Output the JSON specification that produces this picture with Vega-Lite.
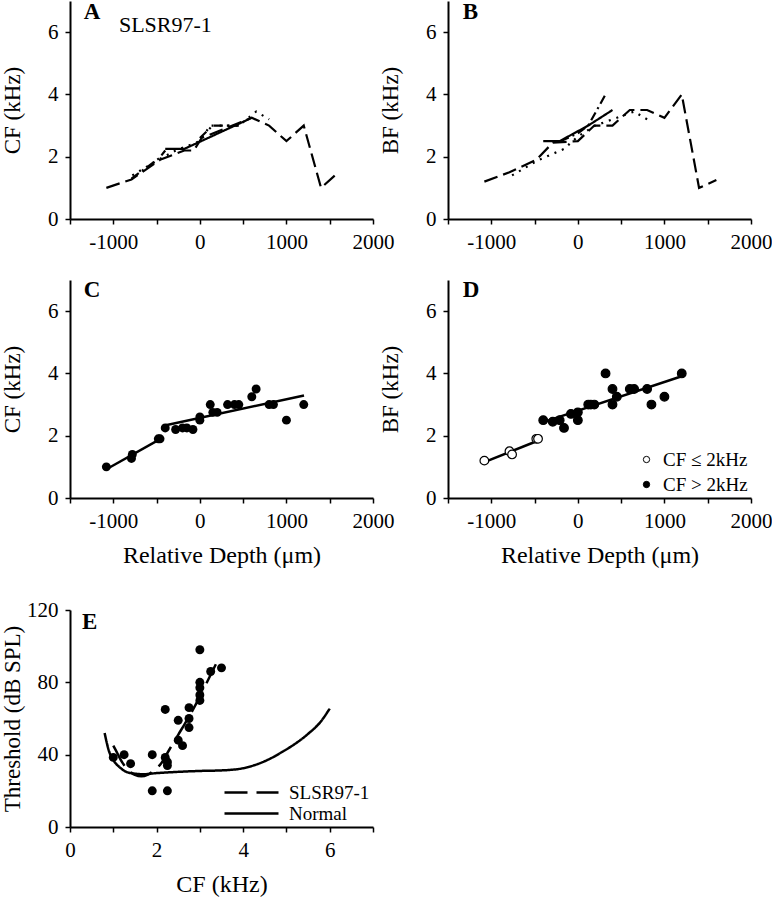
{
  "$schema": "https://vega.github.io/schema/vega-lite/v6.json",
  "padding": {"left": 0, "top": 1, "right": 0, "bottom": 2},
  "config": {
    "font": "Liberation Serif",
    "view": {"stroke": null},
    "axis": {"grid": false, "domainColor": "black", "tickColor": "black", "domainWidth": 2, "tickWidth": 1.5, "tickSize": 5,
      "labelFont": "Liberation Serif", "labelFontSize": 21, "labelColor": "black", "labelPadding": 7, "labelFlush": false, "labelOverlap": false,
      "titleFont": "Liberation Serif", "titleFontSize": 24, "titleFontWeight": "normal", "titleColor": "black", "titlePadding": 12},
    "axisLeft": {"titleX": -46, "titleFontSize": 23},
    "legend": {"labelFont": "Liberation Serif", "labelFontSize": 19, "labelColor": "black"}
  },
  "resolve": {"scale": {"fill": "independent", "strokeDash": "independent"}, "legend": {"fill": "independent", "strokeDash": "independent"}},
  "datasets": {
    "trackA": [
      {"track": "a", "depth": -1080, "cf": 1.0}, {"track": "a", "depth": -790, "cf": 1.27}, {"track": "a", "depth": -460, "cf": 1.9}, {"track": "a", "depth": -180, "cf": 2.2}, {"track": "a", "depth": -70, "cf": 2.2}, {"track": "a", "depth": 20, "cf": 2.6}, {"track": "a", "depth": 600, "cf": 3.25}, {"track": "a", "depth": 800, "cf": 3.0}, {"track": "a", "depth": 1000, "cf": 2.5}, {"track": "a", "depth": 1200, "cf": 3.0}, {"track": "a", "depth": 1400, "cf": 1.0}, {"track": "a", "depth": 1600, "cf": 1.5},
      {"track": "b", "depth": -780, "cf": 1.4}, {"track": "b", "depth": -480, "cf": 1.9}, {"track": "b", "depth": -280, "cf": 2.2}, {"track": "b", "depth": 0, "cf": 2.5}, {"track": "b", "depth": 120, "cf": 3.0}, {"track": "b", "depth": 450, "cf": 3.0}, {"track": "b", "depth": 650, "cf": 3.45}, {"track": "b", "depth": 800, "cf": 3.2},
      {"track": "c", "depth": -400, "cf": 2.25}, {"track": "c", "depth": -180, "cf": 2.25}, {"track": "c", "depth": 600, "cf": 3.25},
      {"track": "d", "depth": -790, "cf": 1.3}, {"track": "d", "depth": -470, "cf": 1.95}, {"track": "d", "depth": -400, "cf": 2.2},
      {"track": "d2", "depth": 0, "cf": 2.6}, {"track": "d2", "depth": 150, "cf": 3.0}, {"track": "d2", "depth": 320, "cf": 3.0}, {"track": "d2", "depth": 450, "cf": 3.0}
    ],
    "trackB": [
      {"track": "a", "depth": -1080, "bf": 1.2}, {"track": "a", "depth": -790, "bf": 1.5}, {"track": "a", "depth": -480, "bf": 1.9}, {"track": "a", "depth": -290, "bf": 2.45}, {"track": "a", "depth": 0, "bf": 2.5}, {"track": "a", "depth": 190, "bf": 3.0}, {"track": "a", "depth": 400, "bf": 3.0}, {"track": "a", "depth": 600, "bf": 3.5}, {"track": "a", "depth": 800, "bf": 3.5}, {"track": "a", "depth": 1000, "bf": 3.25}, {"track": "a", "depth": 1200, "bf": 4.0}, {"track": "a", "depth": 1400, "bf": 1.0}, {"track": "a", "depth": 1600, "bf": 1.25},
      {"track": "b", "depth": -760, "bf": 1.4}, {"track": "b", "depth": -470, "bf": 1.87}, {"track": "b", "depth": -160, "bf": 2.25}, {"track": "b", "depth": 0, "bf": 2.65}, {"track": "b", "depth": 200, "bf": 3.0}, {"track": "b", "depth": 400, "bf": 3.2}, {"track": "b", "depth": 650, "bf": 3.45}, {"track": "b", "depth": 800, "bf": 3.2},
      {"track": "c", "depth": -400, "bf": 2.5}, {"track": "c", "depth": -210, "bf": 2.5}, {"track": "c", "depth": 120, "bf": 3.0}, {"track": "c", "depth": 400, "bf": 3.5},
      {"track": "d", "depth": -200, "bf": 2.5}, {"track": "d", "depth": 0, "bf": 2.75}, {"track": "d", "depth": 120, "bf": 3.0}, {"track": "d", "depth": 320, "bf": 4.0}
    ],
    "cfPts": [
      {"depth": -1080, "cf": 1.0}, {"depth": -780, "cf": 1.4}, {"depth": -790, "cf": 1.27}, {"depth": -480, "cf": 1.9}, {"depth": -460, "cf": 1.9}, {"depth": -400, "cf": 2.25}, {"depth": -280, "cf": 2.2}, {"depth": -200, "cf": 2.25}, {"depth": -150, "cf": 2.25}, {"depth": -80, "cf": 2.2}, {"depth": 0, "cf": 2.6}, {"depth": 0, "cf": 2.5}, {"depth": 120, "cf": 3.0}, {"depth": 150, "cf": 2.75}, {"depth": 200, "cf": 2.75}, {"depth": 320, "cf": 3.0}, {"depth": 400, "cf": 3.0}, {"depth": 450, "cf": 3.0}, {"depth": 600, "cf": 3.25}, {"depth": 650, "cf": 3.5}, {"depth": 800, "cf": 3.0}, {"depth": 850, "cf": 3.0}, {"depth": 1000, "cf": 2.5}, {"depth": 1200, "cf": 3.0}
    ],
    "cfFit": [
      {"seg": 1, "depth": -1069, "cf": 0.94}, {"seg": 1, "depth": -434, "cf": 1.93},
      {"seg": 2, "depth": -407, "cf": 2.33}, {"seg": 2, "depth": 1203, "cf": 3.29}
    ],
    "bfPts": [
      {"grp": "CF ≤ 2kHz", "depth": -1080, "bf": 1.2}, {"grp": "CF ≤ 2kHz", "depth": -790, "bf": 1.5}, {"grp": "CF ≤ 2kHz", "depth": -760, "bf": 1.4}, {"grp": "CF ≤ 2kHz", "depth": -480, "bf": 1.9}, {"grp": "CF ≤ 2kHz", "depth": -460, "bf": 1.9},
      {"grp": "CF > 2kHz", "depth": -400, "bf": 2.5}, {"grp": "CF > 2kHz", "depth": -290, "bf": 2.45}, {"grp": "CF > 2kHz", "depth": -210, "bf": 2.5}, {"grp": "CF > 2kHz", "depth": -160, "bf": 2.25}, {"grp": "CF > 2kHz", "depth": -80, "bf": 2.7}, {"grp": "CF > 2kHz", "depth": 0, "bf": 2.5}, {"grp": "CF > 2kHz", "depth": 0, "bf": 2.75}, {"grp": "CF > 2kHz", "depth": 120, "bf": 3.0}, {"grp": "CF > 2kHz", "depth": 150, "bf": 3.0}, {"grp": "CF > 2kHz", "depth": 190, "bf": 3.0}, {"grp": "CF > 2kHz", "depth": 320, "bf": 4.0}, {"grp": "CF > 2kHz", "depth": 400, "bf": 3.5}, {"grp": "CF > 2kHz", "depth": 400, "bf": 3.0}, {"grp": "CF > 2kHz", "depth": 450, "bf": 3.25}, {"grp": "CF > 2kHz", "depth": 600, "bf": 3.5}, {"grp": "CF > 2kHz", "depth": 650, "bf": 3.5}, {"grp": "CF > 2kHz", "depth": 800, "bf": 3.5}, {"grp": "CF > 2kHz", "depth": 850, "bf": 3.0}, {"grp": "CF > 2kHz", "depth": 1000, "bf": 3.25}, {"grp": "CF > 2kHz", "depth": 1200, "bf": 4.0}
    ],
    "bfFit": [
      {"seg": 1, "depth": -1080, "bf": 1.15}, {"seg": 1, "depth": -434, "bf": 1.87},
      {"seg": 2, "depth": -407, "bf": 2.43}, {"seg": 2, "depth": 1191, "bf": 3.9}
    ],
    "thrPts": [
      {"cf": 1.0, "thr": 38.5}, {"cf": 1.25, "thr": 40}, {"cf": 1.4, "thr": 35}, {"cf": 1.9, "thr": 40}, {"cf": 1.9, "thr": 20}, {"cf": 2.25, "thr": 20}, {"cf": 2.2, "thr": 38.5}, {"cf": 2.25, "thr": 36}, {"cf": 2.25, "thr": 34}, {"cf": 2.2, "thr": 65}, {"cf": 2.5, "thr": 59}, {"cf": 2.5, "thr": 48}, {"cf": 2.6, "thr": 45}, {"cf": 2.75, "thr": 66}, {"cf": 2.75, "thr": 60}, {"cf": 2.75, "thr": 55}, {"cf": 3.0, "thr": 98}, {"cf": 3.0, "thr": 80}, {"cf": 3.0, "thr": 77}, {"cf": 3.0, "thr": 73}, {"cf": 3.0, "thr": 70}, {"cf": 3.25, "thr": 86}, {"cf": 3.5, "thr": 88}
    ],
    "curves": [
      {"series": "SLSR97-1", "cf": 1.0, "thr": 45}, {"series": "SLSR97-1", "cf": 1.1, "thr": 40.5}, {"series": "SLSR97-1", "cf": 1.2, "thr": 36}, {"series": "SLSR97-1", "cf": 1.35, "thr": 31.5}, {"series": "SLSR97-1", "cf": 1.5, "thr": 28.8}, {"series": "SLSR97-1", "cf": 1.65, "thr": 28}, {"series": "SLSR97-1", "cf": 1.8, "thr": 29}, {"series": "SLSR97-1", "cf": 1.95, "thr": 31.5}, {"series": "SLSR97-1", "cf": 2.1, "thr": 35}, {"series": "SLSR97-1", "cf": 2.3, "thr": 43}, {"series": "SLSR97-1", "cf": 2.5, "thr": 51}, {"series": "SLSR97-1", "cf": 2.7, "thr": 59}, {"series": "SLSR97-1", "cf": 2.9, "thr": 67.5}, {"series": "SLSR97-1", "cf": 3.1, "thr": 77}, {"series": "SLSR97-1", "cf": 3.37, "thr": 90},
      {"series": "Normal", "cf": 0.8, "thr": 52}, {"series": "Normal", "cf": 0.9, "thr": 42}, {"series": "Normal", "cf": 1.0, "thr": 37}, {"series": "Normal", "cf": 1.15, "thr": 33}, {"series": "Normal", "cf": 1.3, "thr": 30.5}, {"series": "Normal", "cf": 1.5, "thr": 29.5}, {"series": "Normal", "cf": 1.7, "thr": 29.2}, {"series": "Normal", "cf": 2.0, "thr": 29.8}, {"series": "Normal", "cf": 2.5, "thr": 30.5}, {"series": "Normal", "cf": 3.0, "thr": 31}, {"series": "Normal", "cf": 3.5, "thr": 31.3}, {"series": "Normal", "cf": 4.0, "thr": 32.5}, {"series": "Normal", "cf": 4.3, "thr": 34.5}, {"series": "Normal", "cf": 4.6, "thr": 37.5}, {"series": "Normal", "cf": 4.9, "thr": 41.5}, {"series": "Normal", "cf": 5.2, "thr": 46}, {"series": "Normal", "cf": 5.5, "thr": 51.5}, {"series": "Normal", "cf": 5.8, "thr": 58.5}, {"series": "Normal", "cf": 6.0, "thr": 65.5}
    ],
    "lbl": [{"t": 1}]
  },
  "vconcat": [
    {
      "resolve": {"scale": {"fill": "independent", "strokeDash": "independent"}, "legend": {"fill": "independent", "strokeDash": "independent"}},
      "vconcat": [
        {
          "resolve": {"scale": {"fill": "independent", "strokeDash": "independent"}, "legend": {"fill": "independent", "strokeDash": "independent"}},
          "hconcat": [
            {
              "width": 303, "height": 218,
              "layer": [
                {
                  "data": {"name": "trackA"},
                  "mark": {"type": "line", "color": "black", "strokeWidth": 2.2},
                  "encoding": {
                    "x": {"field": "depth", "type": "quantitative", "scale": {"domain": [-1500, 2000], "nice": false, "zero": false},
                      "axis": {"title": null, "values": [-1500, -1000, -500, 0, 500, 1000, 1500, 2000], "labelExpr": "datum.value % 1000 == 0 ? '' + datum.value : ''"}},
                    "y": {"field": "cf", "type": "quantitative", "scale": {"domain": [0, 7], "nice": false},
                      "axis": {"title": "CF (kHz)", "values": [0, 1, 2, 3, 4, 5, 6, 7], "labelExpr": "datum.value % 2 == 0 ? datum.label : ''"}},
                    "detail": {"field": "track"},
                    "strokeDash": {"field": "track", "scale": {"domain": ["a", "b", "c", "d", "d2"], "range": [[14, 6], [2, 6], [1, 0], [9, 4, 2, 4], [9, 4, 2, 4]]}, "legend": null}
                  }
                },
                {
                  "data": {"name": "lbl"},
                  "mark": {"type": "text", "text": "A", "fontWeight": "bold", "fontSize": 23, "align": "left", "baseline": "alphabetic", "color": "black"},
                  "encoding": {"x": {"datum": -1340}, "y": {"datum": 6.42}}
                },
                {
                  "data": {"name": "lbl"},
                  "mark": {"type": "text", "text": "SLSR97-1", "fontSize": 22, "align": "left", "baseline": "alphabetic", "color": "black"},
                  "encoding": {"x": {"datum": -935}, "y": {"datum": 6.0}}
                }
              ]
            },
            {
              "width": 303, "height": 218,
              "layer": [
                {
                  "data": {"name": "trackB"},
                  "mark": {"type": "line", "color": "black", "strokeWidth": 2.2},
                  "encoding": {
                    "x": {"field": "depth", "type": "quantitative", "scale": {"domain": [-1500, 2000], "nice": false, "zero": false},
                      "axis": {"title": null, "values": [-1500, -1000, -500, 0, 500, 1000, 1500, 2000], "labelExpr": "datum.value % 1000 == 0 ? '' + datum.value : ''"}},
                    "y": {"field": "bf", "type": "quantitative", "scale": {"domain": [0, 7], "nice": false},
                      "axis": {"title": "BF (kHz)", "values": [0, 1, 2, 3, 4, 5, 6, 7], "labelExpr": "datum.value % 2 == 0 ? datum.label : ''"}},
                    "detail": {"field": "track"},
                    "strokeDash": {"field": "track", "scale": {"domain": ["a", "b", "c", "d"], "range": [[14, 6], [2, 6], [1, 0], [9, 4, 2, 4]]}, "legend": null}
                  }
                },
                {
                  "data": {"name": "lbl"},
                  "mark": {"type": "text", "text": "B", "fontWeight": "bold", "fontSize": 23, "align": "left", "baseline": "alphabetic", "color": "black"},
                  "encoding": {"x": {"datum": -1330}, "y": {"datum": 6.42}}
                }
              ]
            }
          ],
          "bounds": "flush",
          "spacing": 75
        },
        {
          "resolve": {"scale": {"fill": "independent", "strokeDash": "independent"}, "legend": {"fill": "independent", "strokeDash": "independent"}},
          "hconcat": [
            {
              "width": 303, "height": 218,
              "layer": [
                {
                  "data": {"name": "cfPts"},
                  "mark": {"type": "point", "shape": "circle", "filled": true, "color": "black", "size": 80, "opacity": 1},
                  "encoding": {
                    "x": {"field": "depth", "type": "quantitative", "scale": {"domain": [-1500, 2000], "nice": false, "zero": false},
                      "axis": {"title": "Relative Depth (μm)", "values": [-1500, -1000, -500, 0, 500, 1000, 1500, 2000], "labelExpr": "datum.value % 1000 == 0 ? '' + datum.value : ''"}},
                    "y": {"field": "cf", "type": "quantitative", "scale": {"domain": [0, 7], "nice": false},
                      "axis": {"title": "CF (kHz)", "values": [0, 1, 2, 3, 4, 5, 6, 7], "labelExpr": "datum.value % 2 == 0 ? datum.label : ''"}}
                  }
                },
                {
                  "data": {"name": "cfFit"},
                  "mark": {"type": "line", "color": "black", "strokeWidth": 2.5},
                  "encoding": {"x": {"field": "depth", "type": "quantitative"}, "y": {"field": "cf", "type": "quantitative"}, "detail": {"field": "seg"}}
                },
                {
                  "data": {"name": "lbl"},
                  "mark": {"type": "text", "text": "C", "fontWeight": "bold", "fontSize": 23, "align": "left", "baseline": "alphabetic", "color": "black"},
                  "encoding": {"x": {"datum": -1340}, "y": {"datum": 6.45}}
                }
              ]
            },
            {
              "width": 303, "height": 218,
              "layer": [
                {
                  "data": {"name": "bfFit"},
                  "mark": {"type": "line", "color": "black", "strokeWidth": 2.5},
                  "encoding": {
                    "x": {"field": "depth", "type": "quantitative", "scale": {"domain": [-1500, 2000], "nice": false, "zero": false},
                      "axis": {"title": "Relative Depth (μm)", "values": [-1500, -1000, -500, 0, 500, 1000, 1500, 2000], "labelExpr": "datum.value % 1000 == 0 ? '' + datum.value : ''"}},
                    "y": {"field": "bf", "type": "quantitative", "scale": {"domain": [0, 7], "nice": false},
                      "axis": {"title": "BF (kHz)", "values": [0, 1, 2, 3, 4, 5, 6, 7], "labelExpr": "datum.value % 2 == 0 ? datum.label : ''"}},
                    "detail": {"field": "seg"}
                  }
                },
                {
                  "data": {"name": "bfPts"},
                  "mark": {"type": "point", "shape": "circle", "filled": true, "stroke": "black", "strokeWidth": 1.2, "size": 75, "opacity": 1},
                  "encoding": {
                    "x": {"field": "depth", "type": "quantitative"},
                    "y": {"field": "bf", "type": "quantitative"},
                    "fill": {"field": "grp", "type": "nominal", "scale": {"domain": ["CF ≤ 2kHz", "CF > 2kHz"], "range": ["white", "black"]},
                      "legend": {"title": null, "orient": "bottom-right", "offset": 3, "padding": 0, "rowPadding": 5, "symbolSize": 40, "symbolStrokeColor": "black", "symbolStrokeWidth": 1, "symbolType": "circle", "labelOffset": 7}}
                  }
                },
                {
                  "data": {"name": "lbl"},
                  "mark": {"type": "text", "text": "D", "fontWeight": "bold", "fontSize": 23, "align": "left", "baseline": "alphabetic", "color": "black"},
                  "encoding": {"x": {"datum": -1330}, "y": {"datum": 6.45}}
                }
              ]
            }
          ],
          "bounds": "flush",
          "spacing": 75
        }
      ],
      "spacing": 27
    },
    {
      "width": 303, "height": 217,
      "layer": [
        {
          "data": {"name": "thrPts"},
          "mark": {"type": "point", "shape": "circle", "filled": true, "color": "black", "size": 80, "opacity": 1},
          "encoding": {
            "x": {"field": "cf", "type": "quantitative", "scale": {"domain": [0, 7], "nice": false},
              "axis": {"title": "CF (kHz)", "values": [0, 1, 2, 3, 4, 5, 6, 7], "labelExpr": "datum.value % 2 == 0 ? datum.label : ''"}},
            "y": {"field": "thr", "type": "quantitative", "scale": {"domain": [0, 120], "nice": false},
              "axis": {"title": "Threshold (dB SPL)", "values": [0, 20, 40, 60, 80, 100, 120], "labelExpr": "datum.value % 40 == 0 ? datum.label : ''"}}
          }
        },
        {
          "data": {"name": "curves"},
          "mark": {"type": "line", "color": "black", "strokeWidth": 2.5, "interpolate": "monotone"},
          "encoding": {
            "x": {"field": "cf", "type": "quantitative"},
            "y": {"field": "thr", "type": "quantitative"},
            "strokeDash": {"field": "series", "type": "nominal", "scale": {"domain": ["SLSR97-1", "Normal"], "range": [[23, 9], [1, 0]]},
              "legend": {"title": null, "orient": "bottom-right", "offset": 3, "padding": 0, "rowPadding": 0, "clipHeight": 21, "symbolType": "stroke", "symbolSize": 2916, "symbolStrokeWidth": 2.5, "symbolStrokeColor": "black", "labelOffset": 9}}
          }
        },
        {
          "data": {"name": "lbl"},
          "mark": {"type": "text", "text": "E", "fontWeight": "bold", "fontSize": 23, "align": "left", "baseline": "alphabetic", "color": "black"},
          "encoding": {"x": {"datum": 0.28}, "y": {"datum": 109.5}}
        }
      ]
    }
  ],
  "spacing": 32
}
